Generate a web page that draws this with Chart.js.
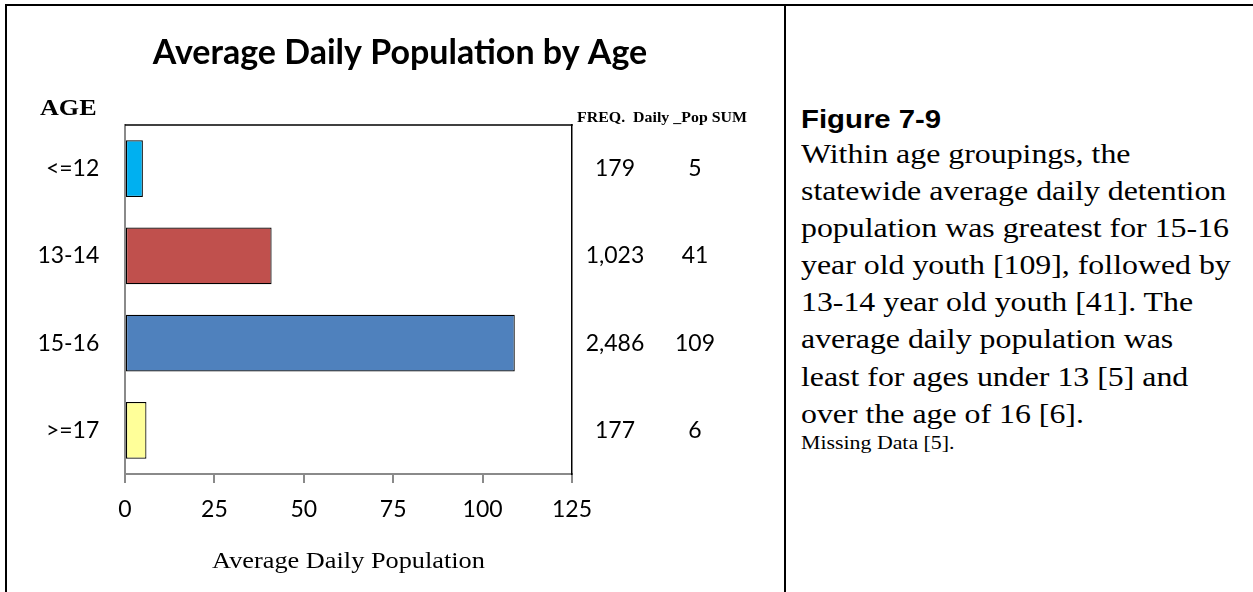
<!DOCTYPE html>
<html>
<head>
<meta charset="utf-8">
<title>Average Daily Population by Age</title>
<script src="https://cdn.jsdelivr.net/npm/chart.js@4.4.1/dist/chart.umd.min.js"></script>
<style>
  html, body { margin: 0; padding: 0; background: #fff; }
  body { width: 1253px; height: 592px; position: relative; overflow: hidden; }
  #chartBox { position: absolute; left: 0; top: 0; width: 784px; height: 592px; }
  .rule { position: absolute; background: #000; }
  #topRule { left: 5px; top: 4px; width: 1248px; height: 2px; }
  #leftRule { left: 5px; top: 4px; width: 2px; height: 588px; }
  #midRule { left: 784px; top: 4px; width: 2px; height: 588px; }
  .note { position: absolute; left: 801px; white-space: nowrap; transform-origin: 0 0; transform: scaleX(1.15); color: #000; }
  #figTitle { top: 101.7px; font: bold 25.5px/35px "Liberation Sans", Arial, sans-serif; }
  #figText { top: 135px; font: 27.7px/37.1px "Liberation Serif", "Times New Roman", serif; }
  #figMissing { top: 429.6px; font: 19px/26px "Liberation Serif", "Times New Roman", serif; }
</style>
</head>
<body>
<div id="chartBox"><canvas id="ageChart" width="784" height="592"></canvas></div>
<div class="rule" id="topRule"></div>
<div class="rule" id="leftRule"></div>
<div class="rule" id="midRule"></div>

<div class="note" id="figTitle">Figure 7-9</div>
<div class="note" id="figText">Within age groupings, the<br>statewide average daily detention<br>population was greatest for 15-16<br>year old youth [109], followed by<br>13-14 year old youth [41]. The<br>average daily population was<br>least for ages under 13 [5] and<br>over the age of 16 [6].</div>
<div class="note" id="figMissing">Missing Data [5].</div>

<script>
// DATA ==================================================================
var ageGroups = ["<=12", "13-14", "15-16", ">=17"];
var dailyPopSum = [5, 41, 109, 6];      // average daily population
var freqCount = [179, 1023, 2486, 177];  // admissions per age group
var barColors = ["#00B0F0", "#C0504D", "#4F81BD", "#FFFF99"];
var xTicks = [0, 25, 50, 75, 100, 125];

var SANS = "Lato, 'Open Sans', sans-serif";
var SERIF = "'Liberation Serif', 'Times New Roman', serif";

// serif labels are a bit wider than their height, draw them squeezed out
function stretchText(ctx, text, x, y, font, sx, align) {
	ctx.save();
	ctx.font = font;
	ctx.fillStyle = "#000";
	ctx.textAlign = align || "left";
	ctx.textBaseline = "alphabetic";
	ctx.translate(x, y);
	ctx.scale(sx, 1);
	ctx.fillText(text, 0, 0);
	ctx.restore();
}

// extra text around the plot: AGE header, FREQ / SUM columns, axis title
var sideTable = {
	id: "sideTable",
	afterDraw: function (chart) {
		let ctx = chart.ctx;
		let area = chart.chartArea;
		let yScale = chart.scales.y;
		let i;

		ctx.save();
		ctx.strokeStyle = "#000";
		ctx.lineWidth = 1.5;
		ctx.beginPath();
		ctx.moveTo(area.left, area.top);
		ctx.lineTo(area.right + 0.75, area.top);
		ctx.stroke();
		ctx.restore();

		stretchText(ctx, "AGE", 40, 115, "bold 22.7px " + SERIF, 1.15);
		stretchText(ctx, "FREQ.  Daily _Pop SUM", 577, 121.7, "bold 15px " + SERIF, 1.06);
		stretchText(ctx, "Average Daily Population", (area.left + area.right) / 2, 568.3, "22.7px " + SERIF, 1.16, "center");

		ctx.save();
		ctx.font = "23px " + SANS;
		ctx.fillStyle = "#000";
		ctx.textAlign = "center";
		ctx.textBaseline = "middle";
		for (i = 0; i < ageGroups.length; i++) {
			let y = yScale.getPixelForValue(i);
			ctx.fillText(freqCount[i].toLocaleString("en"), 615, y);
			ctx.fillText(String(dailyPopSum[i]), 695, y);
		}
		ctx.restore();
	}
};

// CHART =================================================================
var ageChart = new Chart(document.getElementById("ageChart"), {
	type: "bar",
	data: {
		labels: ageGroups,
		datasets: [
			{
				label: "Average Daily Population",
				data: dailyPopSum,
				backgroundColor: barColors,
				borderColor: "#000",
				borderWidth: 1.2,
				borderSkipped: false,
				barPercentage: 0.65,
				categoryPercentage: 1.0
			}
		]
	},
	options: {
		indexAxis: "y",
		responsive: false,
		devicePixelRatio: 1,
		animation: false,
		layout: { padding: { left: 16, right: 0, top: 0, bottom: 0 } },
		plugins: {
			legend: { display: false },
			tooltip: { enabled: false },
			title: {
				display: true,
				text: "Average Daily Population by Age",
				color: "#000",
				font: { family: SANS, size: 34, weight: "bold" },
				padding: { top: 33, bottom: 51.2 }
			}
		},
		scales: {
			x: {
				type: "linear",
				min: xTicks[0],
				max: xTicks[xTicks.length - 1],
				afterBuildTicks: function (scale) {
					scale.ticks = xTicks.map(function (v) { return { value: v }; });
				},
				afterFit: function (scale) { scale.height = 118; },
				grid: {
					drawOnChartArea: false,
					drawTicks: true,
					tickLength: 9,
					color: "#8a8a8a",
					lineWidth: 2
				},
				border: { display: true, color: "#8a8a8a", width: 2 },
				ticks: { color: "#000", padding: 13, font: { family: SANS, size: 23 } }
			},
			y: {
				type: "category",
				afterFit: function (scale) { scale.width = 109; },
				grid: { drawOnChartArea: false, drawTicks: false },
				border: { display: true, color: "#8a8a8a", width: 2 },
				ticks: { color: "#000", padding: 25.7, font: { family: SANS, size: 23 } }
			},
			yRight: {
				type: "linear",
				position: "right",
				afterFit: function (scale) { scale.width = 212; },
				grid: { display: false },
				border: { display: true, color: "#000", width: 1.5 },
				ticks: { display: false }
			}
		}
	},
	plugins: [sideTable]
});
</script>
</body>
</html>
